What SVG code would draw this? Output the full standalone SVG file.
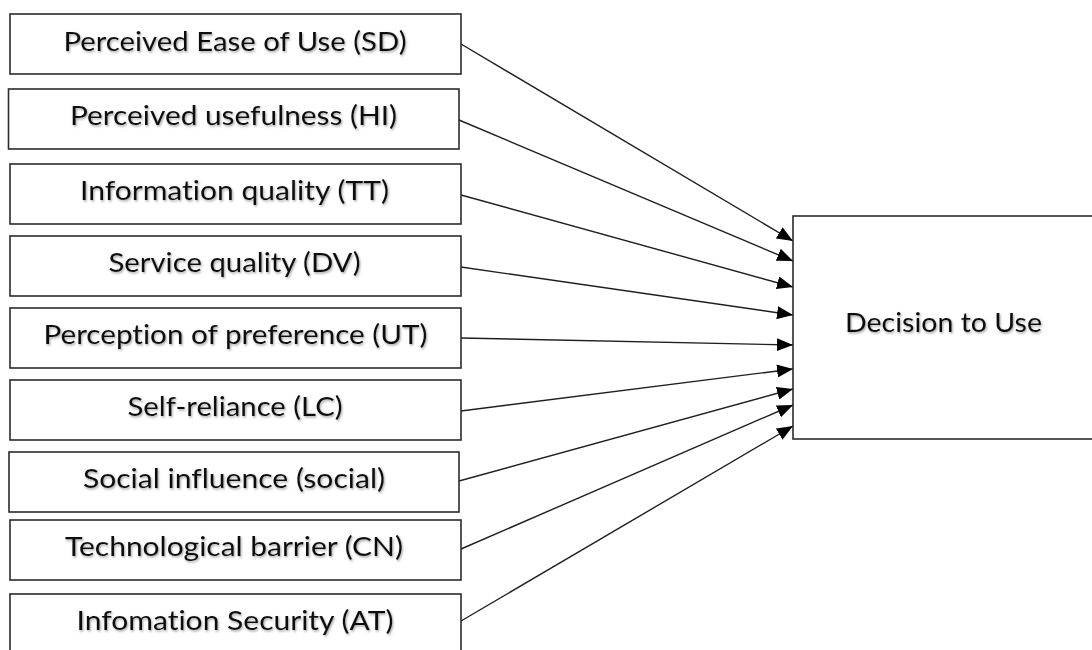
<svg xmlns="http://www.w3.org/2000/svg" width="1092" height="650" viewBox="0 0 1092 650">
  <style>
    .box { fill: #ffffff; stroke: #2b2b2b; stroke-width: 1.6; }
    .lbl { font-family: Lato, "Liberation Sans", sans-serif; font-size: 26.5px; fill: #111111; text-anchor: middle; font-variant-ligatures: none; font-feature-settings: "liga" 0; filter: url(#shadow); }
    .conn { stroke: #1f1f1f; stroke-width: 1.4; fill: none; marker-end: url(#arrow); }
  </style>
  <defs>
    <filter id="shadow" x="-5%" y="-30%" width="110%" height="160%">
      <feDropShadow dx="1" dy="1.5" stdDeviation="1" flood-color="#666666" flood-opacity="0.6"/>
    </filter>
    <marker id="arrow" markerUnits="userSpaceOnUse" markerWidth="17" markerHeight="13" refX="16" refY="6.5" orient="auto">
      <path d="M0,0 L16,6.5 L0,13 Z" fill="#000000"/>
    </marker>
  </defs>
  <rect width="1092" height="650" fill="#ffffff"/>

  <g id="connectors">
    <line class="conn" x1="461" y1="44" x2="793" y2="241"/>
    <line class="conn" x1="459" y1="120" x2="793" y2="261"/>
    <line class="conn" x1="461" y1="195" x2="793" y2="287"/>
    <line class="conn" x1="461" y1="267" x2="793" y2="315"/>
    <line class="conn" x1="461" y1="338" x2="793" y2="345"/>
    <line class="conn" x1="461" y1="411" x2="793" y2="369"/>
    <line class="conn" x1="459" y1="481" x2="793" y2="389"/>
    <line class="conn" x1="461" y1="549" x2="793" y2="405"/>
    <line class="conn" x1="461" y1="621" x2="793" y2="426"/>
  </g>

  <g id="node-sd">
    <rect class="box" x="10" y="14" width="451" height="60"/>
    <text class="lbl" x="235" y="51" textLength="343" lengthAdjust="spacingAndGlyphs">Perceived Ease of Use (SD)</text>
  </g>
  <g id="node-hi">
    <rect class="box" x="8.5" y="89" width="450.5" height="60"/>
    <text class="lbl" x="233.5" y="125" textLength="327" lengthAdjust="spacingAndGlyphs">Perceived usefulness (HI)</text>
  </g>
  <g id="node-tt">
    <rect class="box" x="10" y="164" width="451" height="60"/>
    <text class="lbl" x="234.5" y="200" textLength="309" lengthAdjust="spacingAndGlyphs">Information quality (TT)</text>
  </g>
  <g id="node-dv">
    <rect class="box" x="10" y="236" width="451" height="60"/>
    <text class="lbl" x="234.5" y="272" textLength="252" lengthAdjust="spacingAndGlyphs">Service quality (DV)</text>
  </g>
  <g id="node-ut">
    <rect class="box" x="10" y="308" width="451" height="60"/>
    <text class="lbl" x="235.5" y="344" textLength="384" lengthAdjust="spacingAndGlyphs">Perception of preference (UT)</text>
  </g>
  <g id="node-lc">
    <rect class="box" x="10" y="380" width="451" height="60"/>
    <text class="lbl" x="235" y="416" textLength="215" lengthAdjust="spacingAndGlyphs">Self-reliance (LC)</text>
  </g>
  <g id="node-social">
    <rect class="box" x="9" y="452" width="450" height="60"/>
    <text class="lbl" x="234" y="488" textLength="302" lengthAdjust="spacingAndGlyphs">Social influence (social)</text>
  </g>
  <g id="node-cn">
    <rect class="box" x="10" y="520" width="451" height="60"/>
    <text class="lbl" x="234" y="556" textLength="338" lengthAdjust="spacingAndGlyphs">Technological barrier (CN)</text>
  </g>
  <g id="node-at">
    <rect class="box" x="10" y="594" width="451" height="62"/>
    <text class="lbl" x="235" y="630" textLength="317" lengthAdjust="spacingAndGlyphs">Infomation Security (AT)</text>
  </g>

  <g id="node-decision">
    <rect class="box" x="793" y="216" width="310" height="223"/>
    <text class="lbl" x="943.5" y="332" textLength="197" lengthAdjust="spacingAndGlyphs">Decision to Use</text>
  </g>
</svg>
